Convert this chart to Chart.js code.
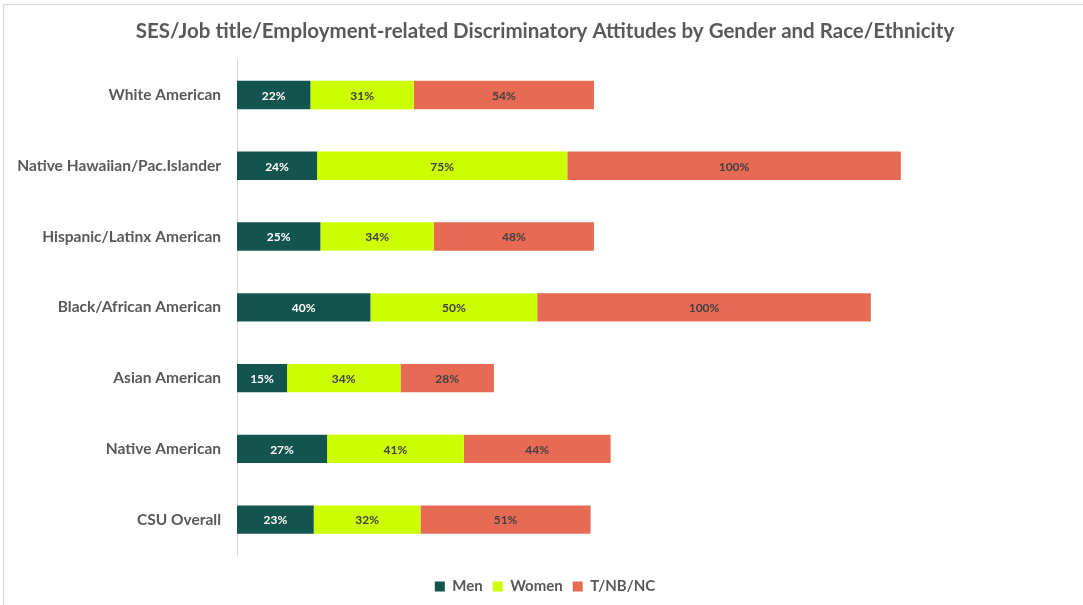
<!DOCTYPE html>
<html lang="en">
<head>
    <meta charset="UTF-8">
    <title>SES/Job title/Employment-related Discriminatory Attitudes</title>
    <script src="https://cdn.jsdelivr.net/npm/chart.js"></script>
    <style>
        html, body { margin: 0; padding: 0; background: #fff; overflow: hidden; }
        .frame {
            position: absolute; left: 3px; top: 4px;
            width: 1085px; height: 610px;
            border: 1px solid #d9d9d9;
            box-sizing: border-box;
        }
        .chart-box { position: absolute; left: 0; top: 0; width: 1079px; height: 600px; }
    </style>
</head>
<body>
    <div class="frame">
        <div class="chart-box">
            <canvas id="grafico"></canvas>
        </div>
    </div>

    <script>
        // categorias (de cima para baixo)
        const grupos = [
            'White American',
            'Native Hawaiian/Pac.Islander',
            'Hispanic/Latinx American',
            'Black/African American',
            'Asian American',
            'Native American',
            'CSU Overall'
        ];

        // percentuais por gênero
        const homens = [22, 24, 25, 40, 15, 27, 23];
        const mulheres = [31, 75, 34, 50, 34, 41, 32];
        const tnbnc = [54, 100, 48, 100, 28, 44, 51];

        const cinza = '#595959';

        // escreve o valor no meio de cada barra
        const rotulosBarras = {
            id: 'rotulosBarras',
            afterDatasetsDraw(chart) {
                const ctx = chart.ctx;
                ctx.save();
                ctx.font = 'bold 12px Lato';
                ctx.textAlign = 'center';
                ctx.textBaseline = 'middle';
                chart.data.datasets.forEach((ds, i) => {
                    const meta = chart.getDatasetMeta(i);
                    meta.data.forEach((bar, j) => {
                        ctx.fillStyle = i === 0 ? '#ffffff' : '#404040';
                        ctx.fillText(ds.data[j] + '%', (bar.x + bar.base) / 2, bar.y + 1);
                    });
                });
                ctx.restore();
            }
        };

        const data = {
            labels: grupos,
            datasets: [
                { label: 'Men', data: homens, backgroundColor: '#14544f' },
                { label: 'Women', data: mulheres, backgroundColor: '#ccff00' },
                { label: 'T/NB/NC', data: tnbnc, backgroundColor: '#e76a55' }
            ]
        };

        const config = {
            type: 'bar',
            data: data,
            options: {
                indexAxis: 'y',
                responsive: true,
                maintainAspectRatio: false,
                animation: false,
                categoryPercentage: 1,
                barPercentage: 0.4,
                layout: { padding: { left: 5, right: 2, top: 0, bottom: 1 } },
                plugins: {
                    title: {
                        display: true,
                        text: 'SES/Job title/Employment-related Discriminatory Attitudes by Gender and Race/Ethnicity',
                        color: cinza,
                        font: { family: 'Lato', size: 20.5, weight: 'bold' },
                        padding: { top: 14, bottom: 16 }
                    },
                    legend: {
                        position: 'bottom',
                        labels: {
                            color: cinza,
                            font: { family: 'Lato', size: 15, weight: 'bold' },
                            boxWidth: 10,
                            boxHeight: 10,
                            padding: 10
                        }
                    },
                    tooltip: { enabled: false }
                },
                scales: {
                    x: {
                        stacked: true,
                        min: 0,
                        max: 253,
                        // eixo invisível, só reserva espaço acima da legenda
                        ticks: { display: false },
                        grid: { display: false, drawTicks: false },
                        border: { display: false },
                        afterFit(scale) { scale.height = 14; }
                    },
                    y: {
                        stacked: true,
                        grid: { display: false, drawTicks: false },
                        border: { display: true, color: '#d9d9d9' },
                        ticks: {
                            color: cinza,
                            padding: 16,
                            font: { family: 'Lato', size: 15.5, weight: 'bold' }
                        },
                        afterFit(scale) { scale.width = 228; }
                    }
                }
            },
            plugins: [rotulosBarras]
        };

        new Chart(document.getElementById('grafico'), config);
    </script>
</body>
</html>
